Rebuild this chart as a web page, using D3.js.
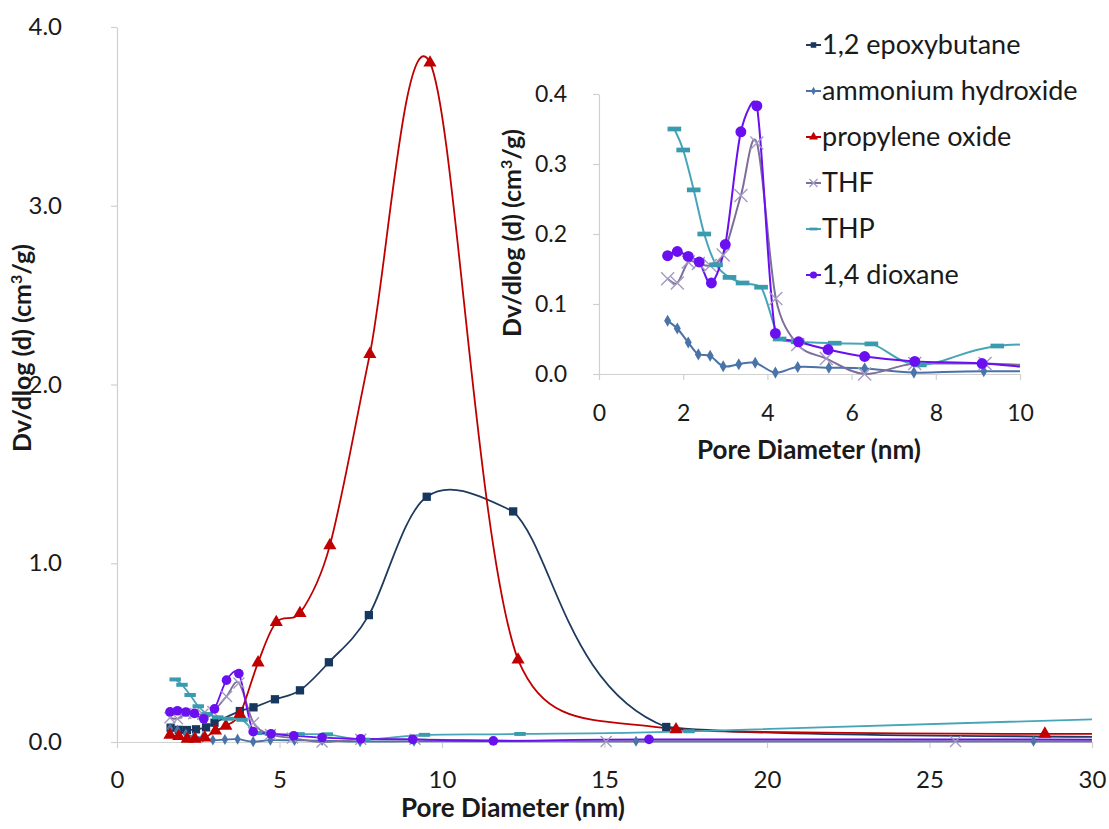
<!DOCTYPE html>
<html><head><meta charset="utf-8">
<script src="https://cdn.jsdelivr.net/npm/d3@7"></script>
<style>
body{margin:0;background:#fff}
text{font-family:Lato, "Noto Sans", sans-serif;fill:#1a1a1a}
</style>
</head><body>
<svg id="c" width="1109" height="829"></svg>
<script>
// ---- data ----
const seriesNames = ["1,2 epoxybutane","ammonium hydroxide","propylene oxide","THF","THP","1,4 dioxane"];
const mainXTicks = [0,5,10,15,20,25,30];
const mainYTicks = [0,1,2,3,4];
const insetXTicks = [0,2,4,6,8,10];
const insetYTicks = [0,0.1,0.2,0.3,0.4];

const epoxX = [1.65,1.9,2.15,2.43,2.74,3.0,3.78,4.2,4.86,5.63,6.52,7.75,9.53,12.19,16.9,30.5];
const epoxY = [0.080,0.068,0.067,0.071,0.082,0.108,0.173,0.194,0.239,0.289,0.446,0.71,1.372,1.29,0.084,0.027];

const ammX = [1.63,1.86,2.12,2.36,2.64,2.95,3.32,3.71,4.19,4.72,5.46,6.31,7.48,9.14,15.97,28.2,40];
const ammY = [0.076,0.065,0.045,0.028,0.026,0.011,0.014,0.016,0.002,0.010,0.009,0.008,0.002,0.004,0.004,0.004,0.004];

const propX = [1.63,1.9,2.16,2.4,2.7,3.03,3.35,3.78,4.34,4.9,5.63,6.55,7.78,9.63,12.34,17.2,28.55,40];
const propY = [0.040,0.032,0.017,0.017,0.024,0.063,0.09,0.155,0.444,0.67,0.72,1.10,2.17,3.80,0.46,0.07,0.045,0.045];

const thfX = [1.63,1.86,2.12,2.36,2.64,2.95,3.37,3.75,4.2,4.72,5.4,6.31,7.5,9.17,15.05,25.8,40];
const thfY = [0.136,0.130,0.160,0.158,0.155,0.170,0.255,0.330,0.108,0.042,0.022,0.0,0.015,0.015,0.003,0.003,0.003];

const thpX = [1.79,2.0,2.25,2.5,2.78,3.1,3.41,3.85,4.29,4.72,5.6,6.47,7.62,9.46,12.4,17.6,45];
const thpY = [0.350,0.320,0.263,0.200,0.156,0.138,0.130,0.124,0.050,0.046,0.044,0.043,0.013,0.040,0.045,0.060,0.21];

const dioxX = [1.63,1.86,2.12,2.38,2.67,3.0,3.37,3.75,4.19,4.74,5.44,6.31,7.5,9.1,11.58,16.37,40];
const dioxY = [0.169,0.175,0.168,0.160,0.130,0.185,0.346,0.383,0.058,0.046,0.035,0.025,0.018,0.015,0.006,0.015,0.012];

const colors = ["#1f3a5f","#4a72a8","#c00000","#7e6e9a","#46a5b8","#6a0ff0"];
const markerColors = ["#17375e","#4a74a8","#c00000","#a49bc2","#3a9aae","#6a0ff0"];
const markers = ["square","diamond","triangle","x","dash","circle"];

const allX = [epoxX,ammX,propX,thfX,thpX,dioxX];
const allY = [epoxY,ammY,propY,thfY,thpY,dioxY];
const series = seriesNames.map((n,i)=>({name:n,i,pts:allX[i].map((x,j)=>({x,y:allY[i][j]}))}));

const svg = d3.select("#c");
const axisColor = "#d0d0d0";

// Excel-like smoothed line (Bezier, 1/6 tangents capped by segment length, no overshoot on monotone runs)
function smoothPath(P){
  const n=P.length; const p=d3.path();
  p.moveTo(P[0][0],P[0][1]);
  const mono=(a,b,c)=>(b-a)*(c-b)>=0;
  const dist=(a,b)=>Math.hypot(a[0]-b[0],a[1]-b[1]);
  for(let i=0;i<n-1;i++){
    const p0=P[Math.max(i-1,0)], p1=P[i], p2=P[i+1], p3=P[Math.min(i+2,n-1)];
    const d02=dist(p0,p2), d12=dist(p1,p2), d13=dist(p1,p3);
    const f1 = (d02/6 < d12/2 || d02===0) ? 1/6 : d12/(2*d02);
    const f2 = (d13/6 < d12/2 || d13===0) ? 1/6 : d12/(2*d13);
    let c1x=p1[0]+(p2[0]-p0[0])*f1, c1y=p1[1]+(p2[1]-p0[1])*f1;
    let c2x=p2[0]-(p3[0]-p1[0])*f2, c2y=p2[1]-(p3[1]-p1[1])*f2;
    const lo=Math.min(p1[1],p2[1]), hi=Math.max(p1[1],p2[1]);
    if(i>0 && mono(p0[1],p1[1],p2[1])) c1y=Math.max(lo,Math.min(hi,c1y));
    if(i<n-2 && mono(p1[1],p2[1],p3[1])) c2y=Math.max(lo,Math.min(hi,c2y));
    p.bezierCurveTo(c1x,c1y,c2x,c2y,p2[0],p2[1]);
  }
  return p.toString();
}

function drawMarker(g, type, x, y, s, fill){
  if(type==="x"){
    g.append("path").attr("d",`M${x-s},${y-s}L${x+s},${y+s}M${x-s},${y+s}L${x+s},${y-s}`)
      .attr("stroke",fill).attr("stroke-width",1.4).attr("fill","none");
  } else if(type==="dash"){
    g.append("rect").attr("x",x-s*1.1).attr("y",y-s*0.38).attr("width",s*2.2).attr("height",s*0.76).attr("fill",fill);
  } else {
    const t = {square:d3.symbolSquare,diamond:d3.symbolDiamond,triangle:d3.symbolTriangle,circle:d3.symbolCircle}[type];
    const area = {square:(2*s)*(2*s)*0.85,diamond:(2*s)*(2*s)*0.55,triangle:(2*s)*(2*s)*0.75,circle:Math.PI*s*s*1.1}[type];
    g.append("path").attr("d",d3.symbol().type(t).size(area)()).attr("transform",`translate(${x},${y})`).attr("fill",fill);
  }
}

function drawPanel(cfg){
  const {xs, ys, xTicks, yTicks, fmtY, subset, lw, ms, yPad, xPad, clipId} = cfg;
  const [x0,x1] = xs.range(); const [yb,yt] = ys.range();
  svg.append("clipPath").attr("id",clipId).append("rect")
    .attr("x",x0).attr("y",yt-10).attr("width",x1-x0).attr("height",yb-yt+11.5);
  const ay = svg.append("g").attr("transform",`translate(${x0},0)`)
    .call(d3.axisLeft(ys).tickValues(yTicks).tickFormat(fmtY).tickSizeInner(6).tickSizeOuter(0).tickPadding(yPad));
  const ax = svg.append("g").attr("transform",`translate(0,${yb})`)
    .call(d3.axisBottom(xs).tickValues(xTicks).tickFormat(d3.format("d")).tickSizeInner(6).tickSizeOuter(0).tickPadding(xPad));
  [ax,ay].forEach(a=>{
    a.select(".domain").attr("stroke",axisColor).attr("stroke-width",1.2);
    a.selectAll(".tick line").attr("stroke",axisColor).attr("stroke-width",1.2);
    a.selectAll("text").attr("font-size",cfg.fs).attr("font-family","Lato, sans-serif").attr("fill","#1a1a1a");
  });
  const gl = svg.append("g").attr("clip-path",`url(#${clipId})`);
  const gm = svg.append("g");
  const dom = xs.domain();
  subset.forEach(i=>{
    const s = series[i];
    gl.append("path").attr("d",smoothPath(s.pts.map(d=>[xs(d.x),ys(d.y)])))
      .attr("fill","none").attr("stroke",colors[i]).attr("stroke-width",lw);
  });
  subset.forEach(i=>{
    const s = series[i];
    s.pts.filter(p=>p.x>=dom[0]&&p.x<=dom[1]).forEach(p=>drawMarker(gm,markers[i],xs(p.x),ys(p.y),ms[i],markerColors[i]));
  });
}

// main chart
const xMain = d3.scaleLinear().domain([0,30]).range([117,1092]);
const yMain = d3.scaleLinear().domain([0,4]).range([742,27]);
drawPanel({xs:xMain, ys:yMain, xTicks:mainXTicks, yTicks:mainYTicks, fmtY:d3.format(".1f"),
  subset:[0,1,2,3,4,5], lw:1.8, ms:[4.5,4.0,5.0,5.5,5.2,4.6], yPad:49, xPad:23, fs:"24px", clipId:"cm"});

// inset chart
const xIn = d3.scaleLinear().domain([0,10]).range([599,1020]);
const yIn = d3.scaleLinear().domain([0,0.4]).range([374,94]);
drawPanel({xs:xIn, ys:yIn, xTicks:insetXTicks, yTicks:insetYTicks, fmtY:d3.format(".1f"),
  subset:[1,3,4,5], lw:2, ms:[4.5,4.4,5,6.5,6.2,5.2], yPad:26, xPad:25, fs:"23px", clipId:"ci"});

// axis titles
function yTitle(cx,cy){
  const t = svg.append("text").attr("transform",`translate(${cx},${cy}) rotate(-90)`)
    .attr("text-anchor","middle").attr("font-weight","bold").attr("font-size","25px");
  t.append("tspan").text("Dv/dlog (d) (cm");
  t.append("tspan").text("3").attr("font-size","16px").attr("dy","-9");
  t.append("tspan").text("/g)").attr("dy","9");
}
function xTitle(cx,cy){
  svg.append("text").attr("x",cx).attr("y",cy).attr("text-anchor","middle")
    .attr("font-weight","bold").attr("font-size","26px").text("Pore Diameter (nm)");
}
xTitle(513,817); yTitle(31,348);
xTitle(809,459); yTitle(521,233);

// legend
const lg = svg.append("g");
seriesNames.forEach((n,i)=>{
  const cy = 45 + i*46;
  lg.append("line").attr("x1",806).attr("x2",821).attr("y1",cy).attr("y2",cy).attr("stroke",colors[i]).attr("stroke-width",2);
  drawMarker(lg,markers[i],813.5,cy,{square:3,diamond:3,triangle:3.4,x:4,dash:3.6,circle:3.4}[markers[i]],markerColors[i]);
  lg.append("text").attr("x",822).attr("y",cy).attr("dy","0.35em").attr("font-size","27px").text(n);
});
</script>
</body></html>
